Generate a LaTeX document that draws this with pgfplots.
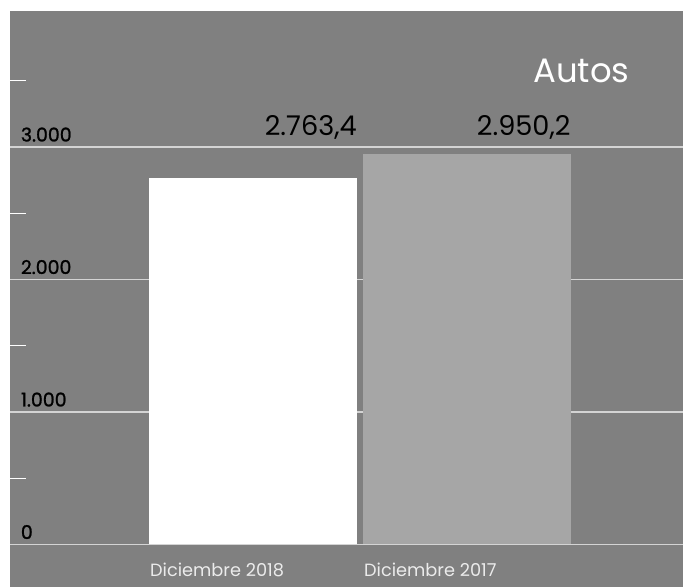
\documentclass[border=0pt]{standalone}
\usepackage{pgfplots}
\pgfplotsset{compat=1.18}
\usepackage{fontspec}
\setmainfont{Poppins}
\newfontfamily\tickfont[FakeBold=1.2]{Poppins}
\definecolor{bg}{HTML}{808080}
\definecolor{bartwo}{HTML}{A6A6A6}
\definecolor{gridc}{HTML}{D4D4D4}
\definecolor{catc}{HTML}{EBEBEB}
\begin{document}
\begin{tikzpicture}
\fill[white] (0,0) rectangle (683bp,587bp);
\begin{axis}[
  at={(10bp,0bp)}, anchor=south west,
  scale only axis, width=673bp, height=576bp,
  axis background/.style={fill=bg},
  axis line style={draw=none},
  xmin=-1.1355, xmax=2.00935,
  ymin=-320.8, ymax=4026.4,
  ybar, bar width=208bp, bar shift=0pt,
  xtick={0,1}, xticklabels={Diciembre 2018, Diciembre 2017},
  xticklabel style={anchor=base west, inner sep=0pt, xshift=-103bp, yshift=11bp, font=\fontsize{17.8}{18}\selectfont, text=catc},
  ytick={0,1000,2000,3000},
  minor ytick={500,1500,2500,3500},
  ytick pos=left, xtick pos=bottom,
  major tick length=0pt,
  minor tick length=16bp,
  tick align=inside,
  minor tick style={white, line width=1bp},
  ymajorgrids, major grid style={gridc, line width=1.3bp},
  yticklabel style={anchor=base west, inner sep=0pt, xshift=10.7bp, yshift=5.5bp, font=\tickfont\fontsize{19}{19}\selectfont, text=black},
  /pgf/number format/.cd, 1000 sep={.}, assume math mode=true,
]
\addplot[fill=white, draw=none, bar shift=0pt] coordinates {(0,2763.4)};
\addplot[fill=bartwo, draw=none, bar shift=0pt] coordinates {(1,2950.2)};
\node[anchor=base east, inner sep=0pt, font=\fontsize{27.3}{27}\selectfont] at (axis cs:0.486,3083) {2.763,4};
\node[anchor=base east, inner sep=0pt, font=\fontsize{27.3}{27}\selectfont] at (axis cs:1.485,3083) {2.950,2};
\node[anchor=base west, inner sep=0pt, text=white, font=\fontsize{34}{34}\selectfont] at (axis description cs:0.7771,0.8767) {Autos};
\end{axis}
\pgfresetboundingbox
\path[use as bounding box] (0,0) rectangle (683bp,587bp);
\end{tikzpicture}
\end{document}
